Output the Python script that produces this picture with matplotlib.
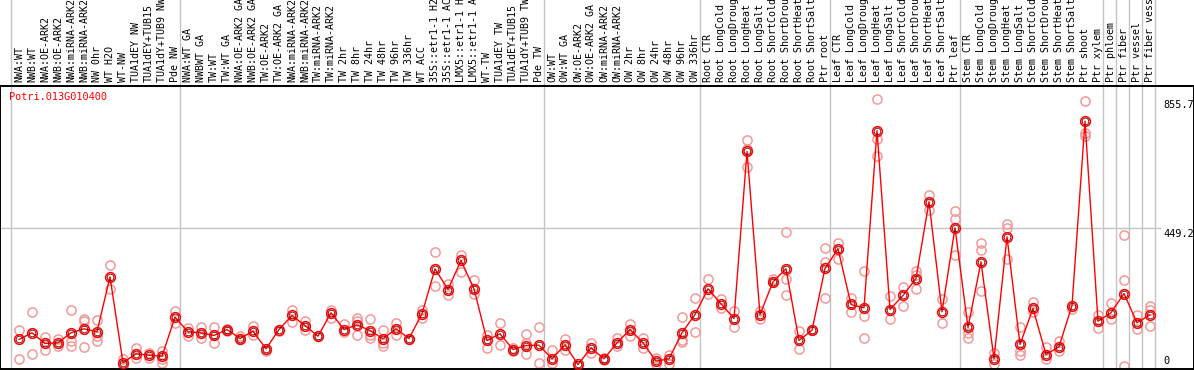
import matplotlib
matplotlib.use("Agg")
import matplotlib.pyplot as plt
from matplotlib.transforms import blended_transform_factory, offset_copy

# ---------------- data ----------------
labels = [
    "NWA:WT", "NWB:WT", "NWA:OE-ARK2", "NWB:OE-ARK2", "NWA:miRNA-ARK2", "NWB:miRNA-ARK2",
    "NW 0hr", "WT H2O", "WT-NW", "TUA1dEY NW", "TUA1dEY+TUB15", "TUA1dY+TUB9 NW", "Pde NW",
    "NWA:WT GA", "NWBWT GA", "TW:WT", "TW:WT GA", "NWA:OE-ARK2 GA", "NWB:OE-ARK2 GA",
    "TW:OE-ARK2", "TW:OE-ARK2 GA", "NWA:miRNA-ARK2", "NWB:miRNA-ARK2", "TW:miRNA-ARK2",
    "TW:miRNA-ARK2", "TW 2hr", "TW 8hr", "TW 24hr", "TW 48hr", "TW 96hr", "TW 336hr",
    "WT ACC", "35S::etr1-1 H2", "35S::etr1-1 AC", "LMX5::etr1-1 H", "LMX5::etr1-1 A",
    "WT-TW", "TUA1dEY TW", "TUA1dEY+TUB15", "TUA1dY+TUB9 TW", "Pde TW",
    "OW:WT", "OW:WT GA", "OW:OE-ARK2", "OW:OE-ARK2 GA", "OW:miRNA-ARK2", "OW:miRNA-ARK2",
    "OW 2hr", "OW 8hr", "OW 24hr", "OW 48hr", "OW 96hr", "OW 336hr",
    "Root CTR", "Root LongCold", "Root LongDroug", "Root LongHeat", "Root LongSalt",
    "Root ShortCold", "Root ShortDrou", "Root ShortHeat", "Root ShortSalt", "Ptr root",
    "Leaf CTR", "Leaf LongCold", "Leaf LongDroug", "Leaf LongHeat", "Leaf LongSalt",
    "Leaf ShortCold", "Leaf ShortDrou", "Leaf ShortHeat", "Leaf ShortSalt", "Ptr leaf",
    "Stem CTR", "Stem LongCold", "Stem LongDroug", "Stem LongHeat", "Stem LongSalt",
    "Stem ShortCold", "Stem ShortDrou", "Stem ShortHeat", "Stem ShortSalt", "Ptr shoot",
    "Ptr xylem", "Ptr phloem", "Ptr fiber", "Ptr vessel", "Ptr fiber vess",
]

group_sizes = [13, 28, 12, 10, 10, 11, 1, 1, 1, 1]

means = [
    93.7, 114.9, 81.0, 83.2, 114.9, 127.6, 118.1, 292.7, 19.7, 48.3, 43.8, 40.6, 164.5,
    118.1, 114.9, 106.4, 125.4, 96.8, 120.0, 64.1, 125.4, 169.9, 138.1, 104.1, 178.4,
    125.4, 140.3, 122.2, 95.9, 127.6, 96.8, 175.3, 318.1, 252.4, 344.5, 254.6, 90.5,
    111.8, 61.9, 74.6, 75.6,
    32.4, 76.8, 14.3, 67.3, 32.4, 83.2, 125.4, 83.2, 24.8, 32.4, 114.9, 173.0,
    254.6, 207.0, 160.3, 690.6, 173.0, 276.9, 318.1, 90.5, 123.2, 319.1,
    381.6, 204.8, 194.3, 757.2, 188.9, 233.4, 287.3, 530.9, 181.6, 448.3,
    131.8, 340.4, 32.4, 419.7, 77.8, 192.1, 46.0, 70.5, 201.6, 786.8, 151.8,
    178.4, 239.7, 146.7, 172.1,
]

replicates = [
    [125.4, 30.2], [180.3, 48.3], [102.2, 61.9], [93.7, 72.4], [188.9, 88.3, 72.4],
    [157.2, 151.8, 70.5], [154.9, 104.1, 88.3], [328.6, 254.6], [32.4, 8.9], [65.1, 34.3],
    [51.4, 34.3], [58.7, 30.2, 19.7], [185.7, 146.7],
    [128.6, 104.1], [134.0, 99.1], [134.0, 83.2], [128.0, 122.0], [104.1, 93.7],
    [135.9, 106.4], [58.7], [120.0], [188.9, 149.9], [151.8, 125.4], [104.1],
    [188.9, 162.6], [141.3, 116.8], [162.6, 151.8, 107.3], [157.2, 109.5, 99.1],
    [125.4, 83.2, 72.4], [146.7, 109.5], [96.8], [188.9, 162.6], [372.1, 265.1],
    [268.3, 236.5], [363.5, 308.6], [281.0, 239.7], [109.5, 65.1], [144.5, 75.6],
    [67.3, 56.5], [111.8, 83.2, 48.3], [134.0, 17.5],
    [59.7, 17.5], [93.7, 61.9], [8.9], [83.2, 51.4], [36.5, 27.0], [99.1, 72.4],
    [141.3, 104.1], [99.1, 67.3], [35.6, 14.3], [43.8, 14.3], [165.7, 91.4, 85.1],
    [226.1, 118.1],
    [284.2, 238.8], [220.7, 192.1], [183.5, 134.0], [725.5, 696.9, 642.0], [183.5, 157.2],
    [286.4, 275.6], [435.6, 286.4, 236.5], [122.2, 64.1], [125.4], [384.8, 340.4, 226.1],
    [400.7, 347.7], [226.1, 180.3], [312.7, 167.6, 99.1], [855.7, 730.9, 675.6],
    [231.1, 157.2], [261.0, 201.6], [312.7, 300.0, 254.6], [550.9, 504.2], [222.9, 144.5],
    [503.2, 476.9, 363.5],
    [180.3, 114.9, 99.1], [400.7, 377.2, 249.2], [51.4, 14.3], [461.0, 448.3, 349.9],
    [134.0, 56.5, 46.0], [213.4, 180.3], [70.5, 32.4], [88.3, 56.5], [191.1],
    [850.3, 750.0, 739.2], [173.0, 130.8],
    [210.2, 157.2], [427.0, 281.9, 8.9], [169.9, 127.6], [199.4, 188.9, 138.1],
]

gene_id = "Potri.013G010400"
ytick_values = [0, 449.2, 855.7]
ytick_labels = ["0", "449.2", "855.7"]

# ---------------- figure ----------------
W, H = 1194, 370
fig = plt.figure(figsize=(W / 100, H / 100), dpi=100)
plot_top_px = 86
plot_bot_px = 369
ax = fig.add_axes([0, (H - plot_bot_px) / H, 1, (plot_bot_px - plot_top_px) / H])

x0_px, step_px = 19, 13
ax.set_xlim(-x0_px / step_px, (W - x0_px) / step_px)
ymax = max(ytick_values) * 1.05
ax.set_ylim(0, ymax)
ax.set_xticks([])
ax.set_yticks([])
for s in ax.spines.values():
    s.set_color("black")
    s.set_linewidth(1.4)

mono = "DejaVu Sans Mono"
grid_c = "#c4c4c4"
ext = (plot_bot_px) / (plot_bot_px - plot_top_px)  # axes fraction to reach image top

# group dividers
bounds = [-1]
c = -1
for g in group_sizes:
    c += g
    bounds.append(c)
for b in bounds:
    ax.axvline(b + 0.38, ymin=0, ymax=ext, color=grid_c, lw=1.0, clip_on=False, zorder=1)

# midline grid
ax.hlines(ytick_values[1], ax.get_xlim()[0], (1161 - x0_px) / step_px, color=grid_c, lw=1.0, zorder=1)

# top separator line between labels and plot
ax.axhline(ymax, color="black", lw=1.4, clip_on=False)

xs = list(range(len(labels)))

# replicates
for i, reps in enumerate(replicates):
    ax.plot([i] * len(reps), reps, linestyle="none", marker="o", markersize=6.6,
            markerfacecolor="none", markeredgecolor="#f29a9a", markeredgewidth=1.1, zorder=2)

# mean line
ax.plot(xs, means, color="#ff0000", lw=1.0, zorder=3)
ax.plot(xs, means, linestyle="none", marker="o", markersize=7.0, markerfacecolor="none",
        markeredgecolor="#ff0000", markeredgewidth=1.1, zorder=4)
ax.plot(xs, means, linestyle="none", marker="o", markersize=4.8, markerfacecolor="none",
        markeredgecolor="#6a0000", markeredgewidth=0.6, zorder=5)

# category labels (rotated, above plot)
trans = blended_transform_factory(ax.transData, ax.transAxes)
lab_y = 1 + 4.0 / (plot_bot_px - plot_top_px)
for i, lab in enumerate(labels):
    ax.text(i, lab_y, lab, rotation=90, ha="center", va="bottom", fontsize=7.2,
            family=mono, color="black", transform=trans, clip_on=False)

# gene id
ax.text(-x0_px / step_px + 9.5 / step_px, ymax, gene_id, color="#ff0000", fontsize=7.4,
        family=mono, ha="left", va="top",
        transform=offset_copy(ax.transData, fig=fig, x=0, y=-6, units="dots"))

# right-side value labels
xl = (1163 - x0_px) / step_px
for v, t in zip(ytick_values, ytick_labels):
    if v == 0:
        ax.text(xl, v, t, ha="left", va="bottom", fontsize=7.4, family=mono,
                transform=offset_copy(ax.transData, fig=fig, x=0, y=3, units="dots"))
    else:
        ax.text(xl, v, t, ha="left", va="top", fontsize=7.4, family=mono,
                transform=offset_copy(ax.transData, fig=fig, x=0, y=-1, units="dots"))

fig.savefig("out.png", dpi=100)
